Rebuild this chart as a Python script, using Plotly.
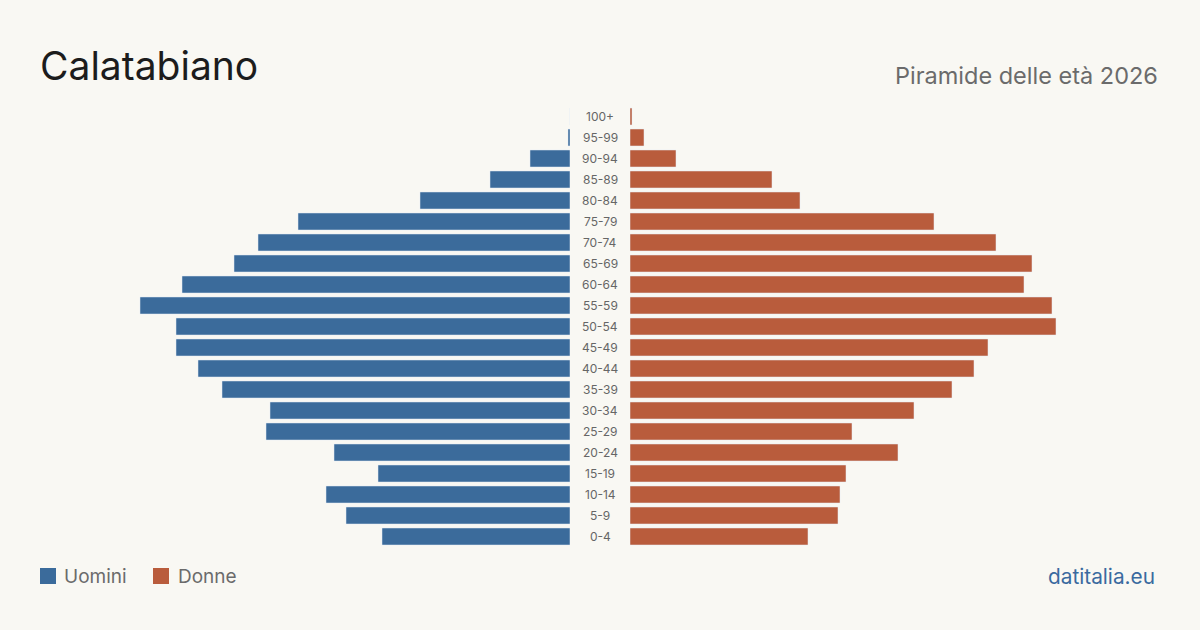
import plotly.graph_objects as go

age_groups = ["0-4", "5-9", "10-14", "15-19", "20-24", "25-29", "30-34", "35-39",
              "40-44", "45-49", "50-54", "55-59", "60-64", "65-69", "70-74", "75-79",
              "80-84", "85-89", "90-94", "95-99", "100+"]
males = [94, 112, 122, 96, 118, 152, 150, 174, 186, 197, 197, 215, 194, 168, 156, 136, 75, 40, 20, 1, 0]
females = [89, 104, 105, 108, 134, 111, 142, 161, 172, 179, 213, 211, 197, 201, 183, 152, 85, 71, 23, 7, 1]

title_text = "Calatabiano"
subtitle_text = "Piramide delle età 2026"
source_text = "datitalia.eu"
legend_labels = ["Uomini", "Donne"]

BLUE = "#3b6b9b"
ORANGE = "#b95c3c"
BG = "#f9f8f3"
FONT = "Inter"

W, H = 1200, 630
T, B = 106, 83
PH = H - T - B

def py(px):
    return (H - B - px) / PH

def pxx(px):
    return px / W

fig = go.Figure()
fig.add_trace(go.Bar(y=age_groups, x=males, orientation="h", marker_color=BLUE,
                     xaxis="x", yaxis="y", name=legend_labels[0], showlegend=False,
                     hoverinfo="x+y"))
fig.add_trace(go.Bar(y=age_groups, x=females, orientation="h", marker_color=ORANGE,
                     xaxis="x2", yaxis="y", name=legend_labels[1], showlegend=False,
                     hoverinfo="x+y"))

annotations = []
for g in age_groups:
    annotations.append(dict(x=0.5, y=g, xref="paper", yref="y", text=g, showarrow=False,
                            font=dict(family=FONT, size=12, color="#666666"),
                            xanchor="center", yanchor="middle"))

annotations += [
    dict(x=pxx(38), y=py(66), xref="paper", yref="paper", text=title_text, showarrow=False,
         xanchor="left", yanchor="middle", font=dict(family=FONT, size=39, color="#1c1c1c")),
    dict(x=pxx(1160), y=py(76), xref="paper", yref="paper", text=subtitle_text, showarrow=False,
         xanchor="right", yanchor="middle", font=dict(family=FONT, size=23.5, color="#6b6b6b")),
    dict(x=pxx(62), y=py(576), xref="paper", yref="paper", text=legend_labels[0], showarrow=False,
         xanchor="left", yanchor="middle", font=dict(family=FONT, size=19, color="#6b6b6b")),
    dict(x=pxx(176), y=py(576), xref="paper", yref="paper", text=legend_labels[1], showarrow=False,
         xanchor="left", yanchor="middle", font=dict(family=FONT, size=19, color="#6b6b6b")),
    dict(x=pxx(1157), y=py(576), xref="paper", yref="paper", text=source_text, showarrow=False,
         xanchor="right", yanchor="middle", font=dict(family=FONT, size=20.8, color="#3a6a9f")),
]

shapes = [
    dict(type="rect", xref="paper", yref="paper", x0=pxx(40), x1=pxx(56), y0=py(584), y1=py(568),
         fillcolor=BLUE, line=dict(width=0)),
    dict(type="rect", xref="paper", yref="paper", x0=pxx(153), x1=pxx(169), y0=py(584), y1=py(568),
         fillcolor=ORANGE, line=dict(width=0)),
]

fig.update_layout(
    width=W, height=H,
    margin=dict(l=0, r=0, t=T, b=B),
    paper_bgcolor=BG, plot_bgcolor=BG,
    bargap=0.19,
    xaxis=dict(domain=[0, 0.475], range=[285, 0], visible=False, fixedrange=True),
    xaxis2=dict(domain=[0.525, 1], range=[0, 285], visible=False, fixedrange=True),
    yaxis=dict(type="category", categoryorder="array", categoryarray=age_groups,
               range=[-0.5, 20.5], visible=False, fixedrange=True),
    annotations=annotations,
    shapes=shapes,
    font=dict(family=FONT),
)

fig.write_html("out.html")
